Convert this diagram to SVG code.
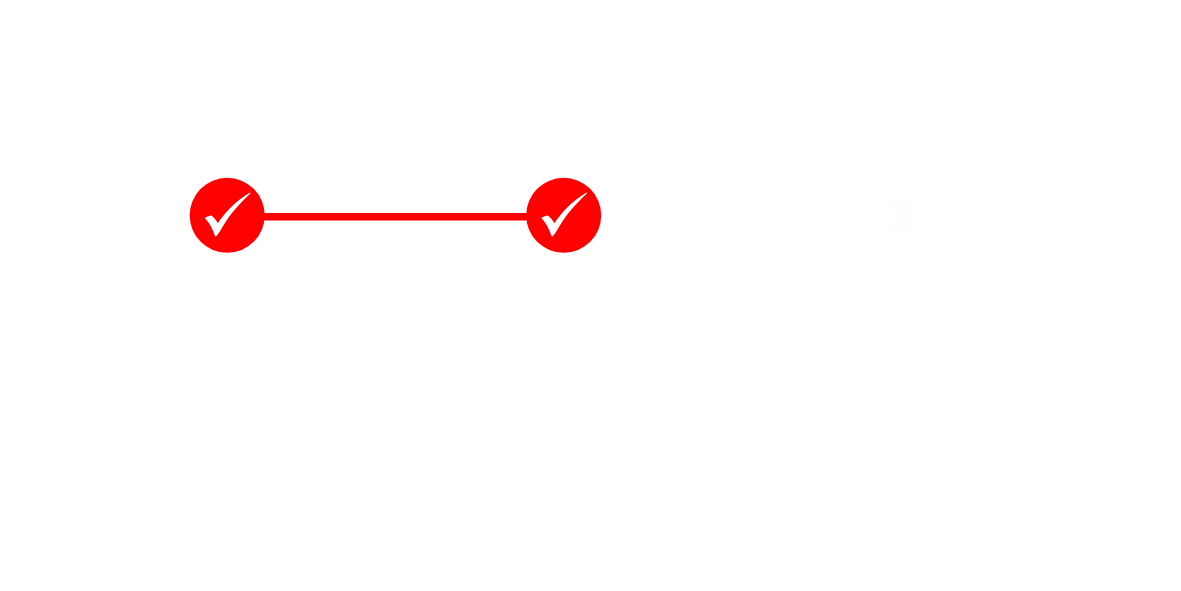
<svg xmlns="http://www.w3.org/2000/svg" width="1181" height="591" viewBox="0 0 1181 591">
<style>
.dot{fill:#ff0000}
.tick{fill:#ffffff}
.link{stroke:#ff0000;stroke-width:7.5;fill:none}
.ghost{fill:#fdfdfd;font-family:"Liberation Sans",Arial,sans-serif;font-size:44px;font-weight:bold;text-anchor:middle}
</style>
<defs>
<path id="check" class="tick" d="M-22.2 3C-20 1.4-17.5 .6-15.5 .5C-13 2.5-10.5 5.5-9.2 8.2C-3 -1 7 -13 23 -22.6L23.6 -21.8C13 -12 2.5 0 -3 9.5C-5.5 13.5-7.5 18-10.3 20.7C-11 21.3-11.5 21.5-12 21.3C-13 18-14 15.5-15.3 13C-17 9.5-19.5 5.5-22.2 3Z"/>
</defs>
<rect width="1181" height="591" fill="#ffffff"/>
<g id="connectors"><line class="link" x1="262" y1="216.8" x2="529" y2="216.8"/></g>
<g id="node-1"><circle class="dot" cx="227.2" cy="215.3" r="37.5"/><use href="#check" transform="translate(227 215)"/></g>
<g id="node-2"><circle class="dot" cx="563.7" cy="215.3" r="37.5"/><use href="#check" transform="translate(563.5 215)"/></g>
<g id="node-3"><text class="ghost" x="900" y="232">3</text></g>
</svg>
